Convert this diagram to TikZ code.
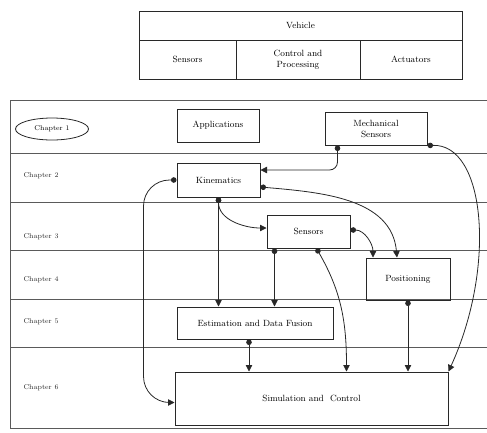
\documentclass[tikz,border=0pt]{standalone}
\usetikzlibrary{arrows.meta,shapes.geometric}
\definecolor{ink}{RGB}{40,40,40}
\definecolor{rule}{RGB}{90,90,90}
\tikzset{
  >={Triangle[length=6.5pt,width=6.5pt]},
  box/.style={draw=ink,line width=1pt,align=center,font=\small,inner sep=1pt},
  cell/.style={draw=ink,line width=1pt,align=center,font=\small,inner sep=1pt},
  lane/.style={draw=rule,line width=0.8pt},
  tag/.style={font=\scriptsize,text=ink,anchor=west},
  flow/.style={{Circle[length=5.5pt]}->,draw=ink,line width=0.8pt},
}
\begin{document}
\begin{tikzpicture}[x=1pt,y=-1pt]
  \useasboundingbox (0,0) rectangle (487,432);
  % vehicle table
  \node[cell,minimum width=323,minimum height=29] (veh) at (300.5,25.5) {Vehicle};
  \node[cell,minimum width=97,minimum height=39] (vsens) at (187.5,59.5) {Sensors};
  \node[cell,minimum width=124,minimum height=39] (vctrl) at (298,59.5) {Control and\\Processing};
  \node[cell,minimum width=102,minimum height=39] (vact) at (411,59.5) {Actuators};
  % lanes
  \draw[lane] (487,100) -- (10,100) -- (10,428) -- (487,428);
  \foreach \y in {153,202,250,299,347}
    \draw[lane] (10,\y) -- (487,\y);
  \node[draw=ink,ellipse,line width=0.8pt,minimum width=73,minimum height=22,inner sep=1pt,font=\scriptsize] (ch1) at (52,129) {Chapter 1};
  \node[tag] (ch2) at (20,176) {Chapter 2};
  \node[tag] (ch3) at (20,237) {Chapter 3};
  \node[tag] (ch4) at (20,280) {Chapter 4};
  \node[tag] (ch5) at (20,322) {Chapter 5};
  \node[tag] (ch6) at (20,388) {Chapter 6};
  % boxes
  \node[box,minimum width=82,minimum height=33] (app) at (218,125.5) {Applications};
  \node[box,minimum width=102,minimum height=33] (mech) at (376,128.5) {Mechanical\\Sensors};
  \node[box,minimum width=83,minimum height=34] (kin) at (218.5,180) {Kinematics};
  \node[box,minimum width=83,minimum height=33] (sens) at (308.5,231.5) {Sensors};
  \node[box,minimum width=84,minimum height=42] (pos) at (408,279) {Positioning};
  \node[box,minimum width=156,minimum height=32] (est) at (255,323) {Estimation and Data Fusion};
  \node[box,minimum width=273,minimum height=53] (sim) at (311.5,398.5) {Simulation and\ \ Control};
  % connectors
  \draw[flow,rounded corners=8pt] ([xshift=13pt]mech.south west) |- ([yshift=10pt]kin.east);
  \draw[flow] (mech.south east) .. controls +(58,-2) and +(48,-105) .. (sim.north east);
  \draw[flow,rounded corners=26pt] (kin.west) -| ++(-33,60) |- ([yshift=-4pt]sim.west);
  \draw[flow] ([yshift=-7pt]kin.east) to[out=-5,in=95] ([xshift=-11pt]pos.north);
  \draw[flow] (kin.south) to[out=-90,in=180] ([yshift=3.5pt]sens.west);
  \draw[flow] (kin.south) -- (kin.south |- est.north);
  \draw[flow] ([xshift=8pt]sens.south west) -- ([xshift=8pt]sens.south west |- est.north);
  \draw[flow] ([xshift=8pt]sens.south) to[out=-60,in=90] ([xshift=35pt]sim.north);
  \draw[flow] ([yshift=1.5pt]sens.east) to[out=0,in=90] ([xshift=-35pt]pos.north);
  \draw[flow] (pos.south) -- (pos.south |- sim.north);
  \draw[flow] ([xshift=-6pt]est.south) -- ([xshift=-6pt]est.south |- sim.north);
\end{tikzpicture}
\end{document}
